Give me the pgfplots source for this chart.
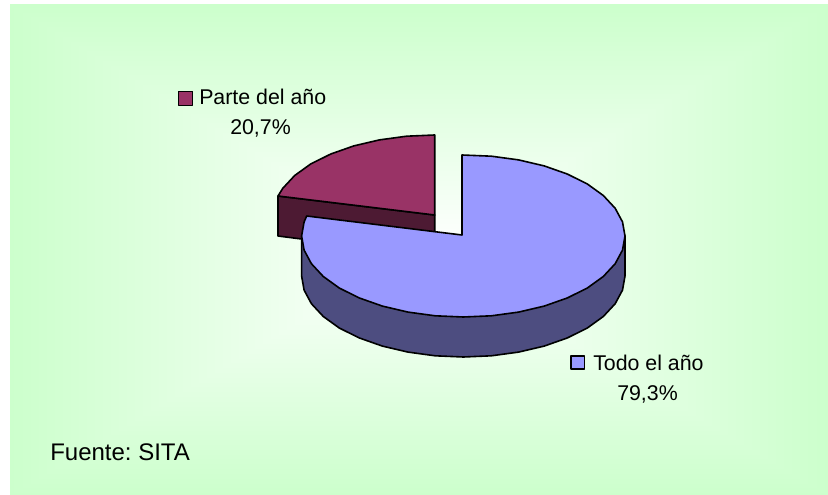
\documentclass[border=0pt]{standalone}
\usepackage{fontspec}
\setmainfont{Liberation Sans}
\usepackage{pgfplots}
\pgfplotsset{compat=1.18}
\definecolor{todoblue}{RGB}{153,153,255}
\definecolor{todoside}{RGB}{77,77,128}
\definecolor{partered}{RGB}{153,51,102}
\definecolor{parteside}{RGB}{77,26,51}
% rectangular gradient from the centre, white to pale green
\pgfdeclarefunctionalshading{bggreen}{\pgfpoint{-50bp}{-50bp}}{\pgfpoint{50bp}{50bp}}{}{
  abs exch abs 2 copy lt {exch} if pop 25 div -0.2 mul 1 add dup 1 exch
}
\begin{document}
\frenchspacing
\begin{tikzpicture}
\begin{axis}[
    width=621pt, height=371.25pt,
    scale only axis,
    hide axis,
    clip=false,
    xmin=0, xmax=828,
    ymin=0, ymax=495,
    y dir=reverse,
    every axis plot/.append style={line width=1.2pt, draw=black, line join=round, forget plot},
]
\path (axis cs:0,0) rectangle (axis cs:828,495);
\fill[shading=bggreen] (axis cs:10,5) rectangle (axis cs:828,495);

% Parte del ano: side, then top
\addplot[fill=parteside] coordinates {(278,196) (278,236) (434.7,256) (434.7,215)} --cycle;
\addplot[fill=partered] coordinates {(434.7,215) (434.7,135) (406.6,136.2) (379.4,139.9) (353.8,145.9)
    (330.8,154.0) (310.8,163.9) (294.7,175.5) (282.8,188.3) (278,196)} --cycle;

% Todo el ano: side, then top
\addplot[fill=todoside] coordinates {(625,236) (625,276) (622.5,290.1) (615.2,303.7) (603.3,316.5)
    (587.2,328.1) (567.2,338.0) (544.2,346.1) (518.6,352.1) (491.4,355.8) (463.3,357)
    (435.2,355.8) (408.0,352.1) (382.4,346.1) (359.4,338.0) (339.4,328.1) (323.3,316.5)
    (311.4,303.7) (304.1,290.1) (301.6,276) (301.6,236)} --cycle;
\addplot[fill=todoblue] coordinates {(462,235) (462,155) (491.4,156.2) (518.6,159.9) (544.2,165.9)
    (567.2,174.0) (587.2,183.9) (603.3,195.5) (615.2,208.3) (622.5,221.9) (625,236)
    (622.5,250.1) (615.2,263.7) (603.3,276.5) (587.2,288.1) (567.2,298.0) (544.2,306.1)
    (518.6,312.1) (491.4,315.8) (463.3,317) (435.2,315.8) (408.0,312.1) (382.4,306.1)
    (359.4,298.0) (339.4,288.1) (323.3,276.5) (311.4,263.7) (304.1,250.1) (301.6,236)
    (304.1,221.9) (306.7,216)} --cycle;

% legend keys
\addplot[fill=partered] coordinates {(178.5,91.5) (192.5,91.5) (192.5,105.5) (178.5,105.5)} --cycle;
\addplot[fill=todoblue] coordinates {(570.7,355.7) (584.3,355.7) (584.3,369) (570.7,369)} --cycle;

\tikzset{lab/.style={inner sep=0pt, font=\fontsize{16}{19}\selectfont, text=black}}
\node[lab, anchor=base west] at (axis cs:199,105) {Parte del año};
\node[lab, anchor=base west] at (axis cs:230,135) {20,7\%};
\node[lab, anchor=base west] at (axis cs:593,370) {Todo el año};
\node[lab, anchor=base west] at (axis cs:617,400) {79,3\%};
\node[lab, anchor=base west, font=\fontsize{18}{21}\selectfont] at (axis cs:50,460) {Fuente: SITA};
\end{axis}
\end{tikzpicture}
\end{document}
